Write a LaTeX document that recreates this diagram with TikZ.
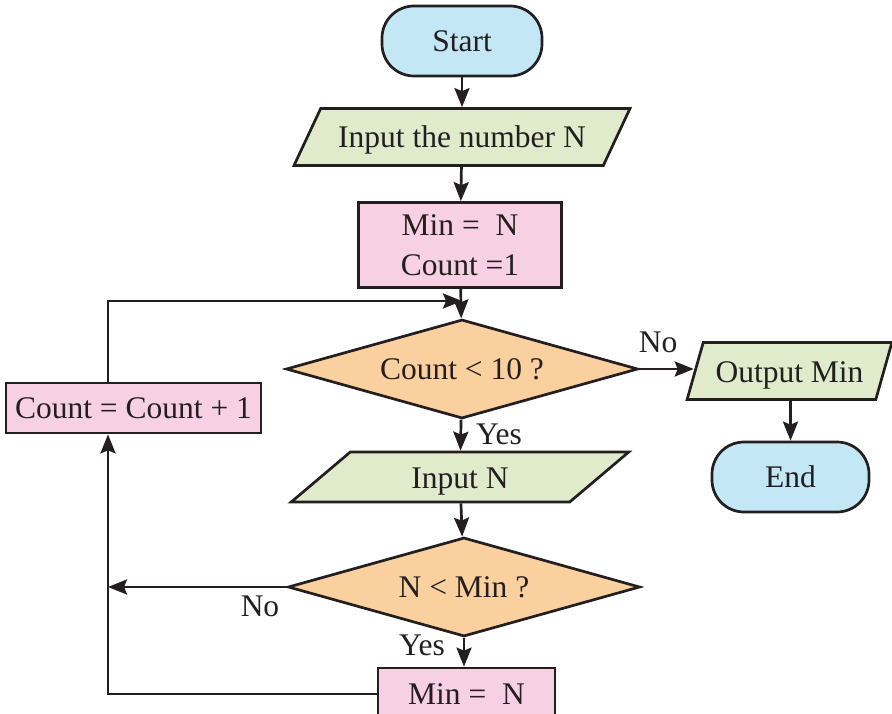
\documentclass[tikz,border=0pt]{standalone}
\usepackage{fontspec}
\setmainfont{Liberation Serif}
\usetikzlibrary{shapes.geometric,arrows.meta,calc}
\definecolor{ink}{HTML}{231F20}
\definecolor{termfill}{HTML}{C4E7F6}
\definecolor{iofill}{HTML}{DFEBCB}
\definecolor{procfill}{HTML}{F8D0E3}
\definecolor{testfill}{HTML}{FBD09F}
\begin{document}
\begin{tikzpicture}[x=1pt,y=-1pt,
  every node/.style={font=\fontsize{31.5}{40}\selectfont, text=ink},
  base/.style={draw=ink, line width=2.7pt, inner sep=0pt},
  term/.style={base, rectangle, rounded corners=32pt, fill=termfill},
  io/.style={base, trapezium, trapezium stretches=true, fill=iofill,
             text height=29pt, text depth=7pt},
  proc/.style={base, rectangle, fill=procfill},
  test/.style={base, diamond, aspect=3.5, fill=testfill,
               minimum width=352pt, minimum height=99pt},
  arr/.style={draw=ink, line width=2.7pt,
              -{Stealth[length=19pt,width=15pt,inset=3pt]}},
  lab/.style={inner sep=0pt}]
\useasboundingbox (0,0) rectangle (892,714);
\clip (0,0) rectangle (892,714);

% main column
\node[term, minimum width=160pt, minimum height=70pt] (start) at (462,41) {Start};
\node[io, trapezium left angle=57, trapezium right angle=123,
      minimum width=337pt, minimum height=57pt] (in1) at (462,137) {Input the number N};
\node[proc, minimum width=203pt, minimum height=85pt, align=center]
      (init) at (460,245) {Min =\ \ N\\Count =1};
\node[test] (d1) at (462,369) {Count < 10 ?};
\node[io, trapezium left angle=54, trapezium right angle=126,
      minimum width=338pt, minimum height=50pt] (in2) at (460,477) {Input N};
\node[test] (d2) at (464,587) {N < Min ?};
\node[proc, minimum width=177pt, minimum height=52pt] (upd) at (466.5,694) {Min =\ \ N};

% right branch
\node[io, trapezium left angle=69, trapezium right angle=111,
      minimum width=205pt, minimum height=57pt] (out) at (789.5,371) {Output Min};
\node[term, minimum width=157pt, minimum height=70pt] (end) at (790.5,477) {End};

% loop body
\node[proc, minimum width=255pt, minimum height=50pt] (inc) at (133.5,408) {Count = Count + 1};

% branch labels
\node[lab] (lno1) at (658,342) {No};
\node[lab] (lyes1) at (499,434) {Yes};
\node[lab] (lno2) at (260,606) {No};
\node[lab] (lyes2) at (422,645) {Yes};

% routing points
\coordinate (join) at (462,301);
\coordinate (rail) at (108,0);

% connectors
\draw[arr] (start) -- (in1);
\draw[arr] (in1) -- (init);
\draw[arr] (init) -- (d1);
\draw[arr] (inc.north -| rail) |- (join);
\draw[arr] (d1.east) -- (d1.east -| out.west);
\draw[arr] (end |- out.south) -- (end.north);
\draw[arr] (d1) -- (in2);
\draw[arr] (in2) -- (d2);
\draw[arr] (d2.south) -- (d2.south |- upd.north);
\draw[arr] (d2.west) -- (d2.west -| rail);
\draw[arr] (upd.west) -| (inc.south -| rail);
\end{tikzpicture}
\end{document}
